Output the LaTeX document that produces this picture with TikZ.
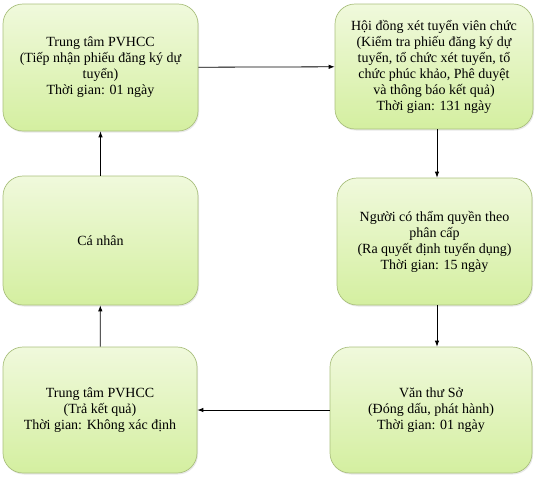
\documentclass[tikz,border=0pt]{standalone}
\usepackage{fontspec}
\setmainfont{Liberation Serif}
\usepackage{tikz}
\usetikzlibrary{arrows.meta, shadows}
\definecolor{boxtop}{RGB}{240,249,220}
\definecolor{boxbot}{RGB}{212,239,160}
\definecolor{boxline}{RGB}{170,192,126}

\begin{document}
\begin{tikzpicture}[x=1pt, y=-1pt, font=\fontsize{14}{16}\selectfont,
  stage/.style={draw=boxline, line width=0.7pt, rounded corners=20pt,
    top color=boxtop, bottom color=boxbot, align=center,
    drop shadow={opacity=0.18, shadow xshift=1pt, shadow yshift=-1.5pt}},
  flow/.style={-{Latex[length=6pt, width=4.5pt]}, line width=0.8pt}]
  \useasboundingbox (0,0) rectangle (536,477);
  \node[stage, minimum width=195pt, minimum height=127pt] (nhan) at (100.5,67.5)
    {Trung tâm PVHCC\\(Tiếp nhận phiếu đăng ký dự\\tuyển)\\Thời gian: 01 ngày};
  \node[stage, minimum width=198pt, minimum height=125pt] (hoidong) at (434,66.5)
    {Hội đồng xét tuyển viên chức\\(Kiểm tra phiếu đăng ký dự\\tuyển, tổ chức xét tuyển, tổ\\chức phúc khảo, Phê duyệt\\và thông báo kết quả)\\Thời gian: 131 ngày};
  \node[stage, minimum width=195pt, minimum height=127pt] (quyetdinh) at (434.5,241.5)
    {Người có thẩm quyền theo\\phân cấp\\(Ra quyết định tuyển dụng)\\Thời gian: 15 ngày};
  \node[stage, minimum width=202pt, minimum height=126pt] (vanthu) at (431,410)
    {Văn thư Sở\\(Đóng dấu, phát hành)\\Thời gian: 01 ngày};
  \node[stage, minimum width=194pt, minimum height=126pt] (trakq) at (100,410)
    {Trung tâm PVHCC\\(Trả kết quả)\\Thời gian: Không xác định};
  \node[stage, minimum width=195pt, minimum height=129pt] (canhan) at (100.5,240.5)
    {Cá nhân};
  % connectors
  \draw[flow] (nhan) -- (hoidong);
  \draw[flow] (hoidong.south -| 437,0) -- (quyetdinh.north -| 437,0);
  \draw[flow] (quyetdinh.south -| 437,0) -- (vanthu.north -| 437,0);
  \draw[flow] (vanthu) -- (trakq);
  \draw[flow] (trakq) -- (canhan);
  \draw[flow] (canhan) -- (nhan);
\end{tikzpicture}
\end{document}
